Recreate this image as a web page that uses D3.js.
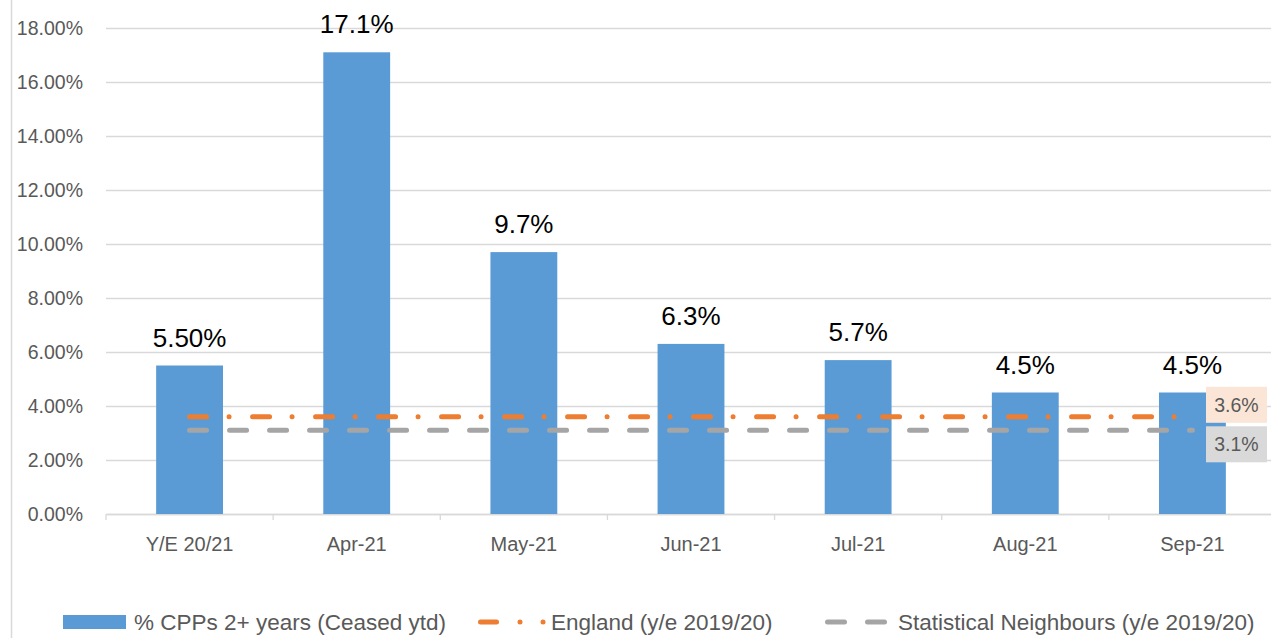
<!DOCTYPE html>
<html>
<head>
<meta charset="utf-8">
<script src="https://cdn.jsdelivr.net/npm/d3@7"></script>
<style>
  body { margin: 0; background: #fff; }
  svg { display: block; font-family: "Liberation Sans", Arial, sans-serif; }
</style>
</head>
<body>
<div id="chart"></div>
<script>
// chart data
const categories = ["Y/E 20/21", "Apr-21", "May-21", "Jun-21", "Jul-21", "Aug-21", "Sep-21"];
const cppValues = [5.5, 17.1, 9.7, 6.3, 5.7, 4.5, 4.5];
const cppLabels = ["5.50%", "17.1%", "9.7%", "6.3%", "5.7%", "4.5%", "4.5%"];
const englandValues = [3.6, 3.6, 3.6, 3.6, 3.6, 3.6, 3.6];
const neighbourValues = [3.1, 3.1, 3.1, 3.1, 3.1, 3.1, 3.1];
const yTicks = [0, 2, 4, 6, 8, 10, 12, 14, 16, 18];
const seriesNames = ["% CPPs 2+ years (Ceased ytd)", "England (y/e 2019/20)", "Statistical Neighbours (y/e 2019/20)"];

const width = 1271, height = 638;
const blue = "#5B9BD5", orange = "#ED7D31", grey = "#A5A5A5";

const svg = d3.select("#chart").append("svg")
    .attr("width", width)
    .attr("height", height);

// outer frame line on the left
svg.append("line")
    .attr("x1", 11.5).attr("x2", 11.5)
    .attr("y1", 0).attr("y2", height)
    .attr("stroke", "#D9D9D9").attr("stroke-width", 1.5);

const x = d3.scaleBand()
    .domain(categories)
    .range([106, 1276])
    .paddingInner(0.6)
    .paddingOuter(0.3);

const band = d3.scaleBand().domain(categories).range([106, 1276]);

const y = d3.scaleLinear()
    .domain([0, 18])
    .range([514, 28]);

// gridlines + y labels
const yAxis = svg.append("g")
    .attr("transform", "translate(106,0)")
    .call(d3.axisLeft(y).tickValues(yTicks)
      .tickSize(-1170)
      .tickPadding(23)
      .tickFormat(d => d.toFixed(2) + "%"));
yAxis.select(".domain").remove();
yAxis.selectAll(".tick line").attr("stroke", "#D9D9D9").attr("stroke-width", 1.3);
yAxis.selectAll(".tick text")
    .attr("fill", "#595959")
    .style("font-size", "19.5px");

// x axis
const xAxis = svg.append("g")
    .attr("transform", "translate(0,514)")
    .call(d3.axisBottom(band).tickSize(0).tickPadding(23));
xAxis.select(".domain").attr("stroke", "#D9D9D9").attr("stroke-width", 1.3);
xAxis.selectAll(".tick text")
    .attr("fill", "#595959")
    .style("font-size", "20px");

// tick marks at band edges
svg.append("g").selectAll("line")
  .data(categories.concat(["end"]))
  .join("line")
    .attr("x1", (d, i) => 106 + i * band.step())
    .attr("x2", (d, i) => 106 + i * band.step())
    .attr("y1", 514).attr("y2", 520)
    .attr("stroke", "#D9D9D9").attr("stroke-width", 1.3);

// bars
svg.append("g").selectAll("rect")
  .data(cppValues)
  .join("rect")
    .attr("x", (d, i) => x(categories[i]))
    .attr("y", d => y(d))
    .attr("width", x.bandwidth())
    .attr("height", d => y(0) - y(d))
    .attr("fill", blue);

// bar labels
svg.append("g").selectAll("text")
  .data(cppValues)
  .join("text")
    .attr("x", (d, i) => band(categories[i]) + band.bandwidth() / 2)
    .attr("y", d => y(d) - 19)
    .attr("text-anchor", "middle")
    .style("font-size", "26px")
    .attr("fill", "#000")
    .text((d, i) => cppLabels[i]);

// reference lines
const cx = (d, i) => band(categories[i]) + band.bandwidth() / 2;
const line = d3.line().x(cx).y(d => y(d));

svg.append("path")
    .datum(neighbourValues)
    .attr("d", line)
    .attr("fill", "none")
    .attr("stroke", grey)
    .attr("stroke-width", 5)
    .attr("stroke-linecap", "round")
    .attr("stroke-dasharray", "17 23");

svg.append("path")
    .datum(englandValues)
    .attr("d", line)
    .attr("fill", "none")
    .attr("stroke", orange)
    .attr("stroke-width", 5)
    .attr("stroke-linecap", "round")
    .attr("stroke-dasharray", "17 22.5 0 23.5");

// end labels
const last = categories.length - 1;
const endLabels = [
  {v: englandValues[last], fill: "#FBE5D6", dy: -12},
  {v: neighbourValues[last], fill: "#D9D9D9", dy: 14}
];
const endG = svg.append("g").selectAll("g")
  .data(endLabels)
  .join("g")
    .attr("transform", d => `translate(1206,${y(d.v) + d.dy})`);
endG.append("rect")
    .attr("x", 0).attr("y", -18)
    .attr("width", 61).attr("height", 36)
    .attr("fill", d => d.fill);
endG.append("text")
    .attr("x", 30.5).attr("y", 7)
    .attr("text-anchor", "middle")
    .attr("fill", "#595959")
    .style("font-size", "19.5px")
    .text(d => d.v.toFixed(1) + "%");

// legend
const leg = svg.append("g").attr("transform", "translate(0,622)");
const legFont = "22.5px";
leg.append("rect")
    .attr("x", 63).attr("y", -7)
    .attr("width", 63).attr("height", 14)
    .attr("fill", blue);
leg.append("text")
    .attr("x", 134).attr("y", 8)
    .attr("fill", "#595959").style("font-size", legFont)
    .text(seriesNames[0]);

leg.append("path")
    .attr("d", "M480.5,0H496.5")
    .attr("stroke", orange).attr("stroke-width", 5).attr("stroke-linecap", "round");
leg.selectAll("circle.o")
  .data([520, 543])
  .join("circle")
    .attr("cx", d => d).attr("cy", 0).attr("r", 2.5)
    .attr("fill", orange);
leg.append("text")
    .attr("x", 551).attr("y", 8)
    .attr("fill", "#595959").style("font-size", legFont)
    .text(seriesNames[1]);

leg.selectAll("path.g")
  .data([827.5, 867.5])
  .join("path")
    .attr("d", d => `M${d},0H${d + 17}`)
    .attr("stroke", grey).attr("stroke-width", 5).attr("stroke-linecap", "round");
leg.append("text")
    .attr("x", 898).attr("y", 8)
    .attr("fill", "#595959").style("font-size", legFont)
    .text(seriesNames[2]);
</script>
</body>
</html>
